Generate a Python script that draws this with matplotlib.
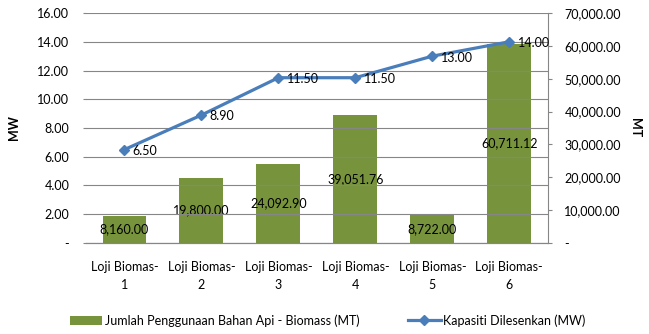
import matplotlib.pyplot as plt
import numpy as np
from matplotlib.ticker import FuncFormatter, MultipleLocator

plt.rcParams['font.family'] = ['Lato', 'DejaVu Sans']

categories = ["Loji Biomas-\n1", "Loji Biomas-\n2", "Loji Biomas-\n3",
              "Loji Biomas-\n4", "Loji Biomas-\n5", "Loji Biomas-\n6"]
biomass_mt = [8160.00, 19800.00, 24092.90, 39051.76, 8722.00, 60711.12]
kapasiti_mw = [6.50, 8.90, 11.50, 11.50, 13.00, 14.00]

bar_label = "Jumlah Penggunaan Bahan Api - Biomass (MT)"
line_label = "Kapasiti Dilesenkan (MW)"

green = "#77933C"
blue = "#4A7EBB"
grid = "#868686"

fig = plt.figure(figsize=(6.49, 3.34), dpi=100)
ax = fig.add_axes([0.1325, 0.2725, 0.7115, 0.6885])
ax2 = ax.twinx()

x = np.arange(len(categories))

# bars on the secondary (MT) axis, line on the primary (MW) axis
bars = ax2.bar(x, biomass_mt, width=0.57, color=green, zorder=2, label=bar_label)
ax2.set_ylim(0, 70000)
ax2.yaxis.set_major_locator(MultipleLocator(10000))

ax.set_ylim(0, 16)
ax.set_xlim(-0.5, len(categories) - 0.5)
ax.yaxis.set_major_locator(MultipleLocator(2))
ax.grid(axis='y', color=grid, linewidth=0.8)
ax.set_axisbelow(True)

# line must be drawn above bars -> put primary axes on top
ax.set_zorder(ax2.get_zorder() + 1)
ax.patch.set_visible(False)
ax2.patch.set_visible(True)
ax2.patch.set_facecolor('white')

line, = ax.plot(x, kapasiti_mw, color=blue, linewidth=2.3, marker='D',
                markersize=5.5, label=line_label, zorder=3)

for xi, v in zip(x, biomass_mt):
    ax2.text(xi, v / 2, f"{v:,.2f}", ha='center', va='center', fontsize=9,
             color='black', zorder=4)
for xi, v in zip(x, kapasiti_mw):
    ax.annotate(f"{v:.2f}", (xi, v), xytext=(6, -1), textcoords='offset points',
                ha='left', va='center', fontsize=9, color='black')

ax.yaxis.set_major_formatter(FuncFormatter(lambda v, p: "-" if v == 0 else f"{v:.2f}"))
ax2.yaxis.set_major_formatter(FuncFormatter(lambda v, p: "-" if v == 0 else f"{v:,.2f}"))

ax.set_xticks(x)
ax.set_xticklabels(categories, fontsize=9, linespacing=1.6)
ax.tick_params(axis='x', length=0, pad=13)
ax.tick_params(axis='y', length=2, color=grid, labelsize=9, pad=10)
ax2.tick_params(axis='y', length=3, color=grid, labelsize=9, pad=9)

for s in ['top', 'left']:
    ax.spines[s].set_visible(False)
    ax2.spines[s].set_visible(False)
ax.spines['right'].set_visible(False)
ax2.spines['right'].set_color(grid)
ax.spines['bottom'].set_color(grid)
ax2.spines['bottom'].set_color(grid)

ax.set_ylabel("MW", fontsize=9, fontweight='bold')
ax.yaxis.set_label_coords(-0.143, 0.5)
ax2.set_ylabel("MT", fontsize=9, fontweight='bold', rotation=270, va='center')
ax2.yaxis.set_label_coords(1.19, 0.5)

fig.legend([bars, line], [bar_label, line_label], loc='lower center',
           bbox_to_anchor=(0.505, -0.012), ncol=2, frameon=False, fontsize=9,
           handlelength=2.6, handletextpad=0.2, columnspacing=3.9)

fig.savefig("out.png", dpi=100)
